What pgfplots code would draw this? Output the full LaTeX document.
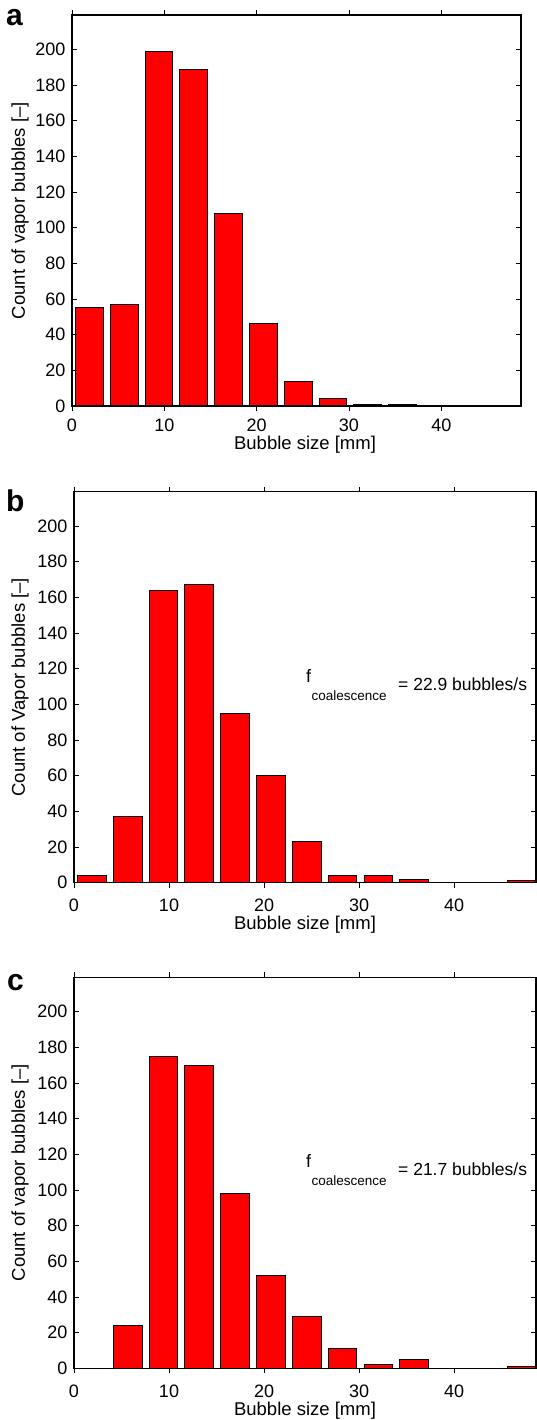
\documentclass[border=0pt]{standalone}
\usepackage{pgfplots}
\pgfplotsset{compat=1.18}
\usepackage{fontspec}
\setmainfont{Liberation Sans}
\begin{document}
\begin{tikzpicture}
\useasboundingbox (0,0) rectangle (537pt,-1420pt);
\pgfplotsset{
  bubblehist/.style={
    scale only axis,
    height=391pt,
    xmin=0, xmax=48.63,
    ymin=0, ymax=219.3,
    xtick={0,10,20,30,40},
    ytick={0,20,...,200},
    tick align=inside,
    major tick length=5pt,
    axis on top,
    axis line style={line width=1.3pt},
    every tick/.style={black, line width=0.9pt},
    tick label style={font=\fontsize{18}{20}\selectfont, inner sep=2pt},
    /pgf/number format/assume math mode=true,
    yticklabel style={xshift=-4.5pt},
    label style={font=\fontsize{18.5}{22}\selectfont, inner sep=1pt},
    ybar, bar width=3.02, bar shift=0pt,
  },
  barstyle/.style={fill=red, draw=black, line width=1pt},
}
% Panel a
\begin{axis}[bubblehist,
  at={(72pt,-406pt)}, anchor=south west, width=449pt,
  xticklabel style={yshift=-5.5pt},
  xlabel={Bubble size [mm]},
  xlabel style={at={(axis description cs:0.519,-0.1125)}, anchor=base},
  ylabel={Count of vapor bubbles [–]},
  ylabel style={at={(axis description cs:-0.1158,0.5)}, anchor=center},
]
\addplot[barstyle] coordinates {
 (1.88,55) (5.65,57) (9.42,199) (13.19,189) (16.96,108) (20.73,46) (24.50,14)
 (28.27,4) (32.04,1) (35.81,1) (39.58,0) (43.35,0) (47.12,0)};
\end{axis}
% Panel b
\begin{axis}[bubblehist,
  at={(74pt,-882.7pt)}, anchor=south west, width=462pt,
  xticklabel style={yshift=-9.5pt},
  xlabel={Bubble size [mm]},
  xlabel style={at={(axis description cs:0.5,-0.1202)}, anchor=base},
  ylabel={Count of Vapor bubbles [–]},
  ylabel style={at={(axis description cs:-0.1169,0.5)}, anchor=center},
]
\addplot[barstyle] coordinates {
 (1.88,4) (5.65,37) (9.42,164) (13.19,167) (16.96,95) (20.73,60) (24.50,23)
 (28.27,4) (32.04,4) (35.81,2) (39.58,0) (43.35,0) (47.12,1)};
\end{axis}
% Panel c
\begin{axis}[bubblehist,
  at={(74pt,-1368.3pt)}, anchor=south west, width=462pt,
  xticklabel style={yshift=-9.5pt},
  xlabel={Bubble size [mm]},
  xlabel style={at={(axis description cs:0.5,-0.1202)}, anchor=base},
  ylabel={Count of vapor bubbles [–]},
  ylabel style={at={(axis description cs:-0.1169,0.5)}, anchor=center},
]
\addplot[barstyle] coordinates {
 (1.88,0) (5.65,24) (9.42,175) (13.19,170) (16.96,98) (20.73,52) (24.50,29)
 (28.27,11) (32.04,2) (35.81,5) (39.58,0) (43.35,0) (47.12,1)};
\end{axis}
% panel letters
\node[anchor=base west, inner sep=0, font=\bfseries\fontsize{30}{36}\selectfont] at (6pt,-26pt) {a};
\node[anchor=base west, inner sep=0, font=\bfseries\fontsize{30}{36}\selectfont] at (6pt,-511pt) {b};
\node[anchor=base west, inner sep=0, font=\bfseries\fontsize{30}{36}\selectfont] at (7pt,-990pt) {c};
% annotations
\node[anchor=base west, inner sep=0, font=\fontsize{18}{21}\selectfont] at (306pt,-682pt) {f};
\node[anchor=base west, inner sep=0, font=\fontsize{13.5}{16}\selectfont] at (311.5pt,-700pt) {coalescence};
\node[anchor=base west, inner sep=0, font=\fontsize{17.5}{21}\selectfont] at (398pt,-690pt) {= 22.9 bubbles/s};
\node[anchor=base west, inner sep=0, font=\fontsize{18}{21}\selectfont] at (306pt,-1167.6pt) {f};
\node[anchor=base west, inner sep=0, font=\fontsize{13.5}{16}\selectfont] at (311.5pt,-1185.6pt) {coalescence};
\node[anchor=base west, inner sep=0, font=\fontsize{17.5}{21}\selectfont] at (398pt,-1175.6pt) {= 21.7 bubbles/s};
\end{tikzpicture}
\end{document}
